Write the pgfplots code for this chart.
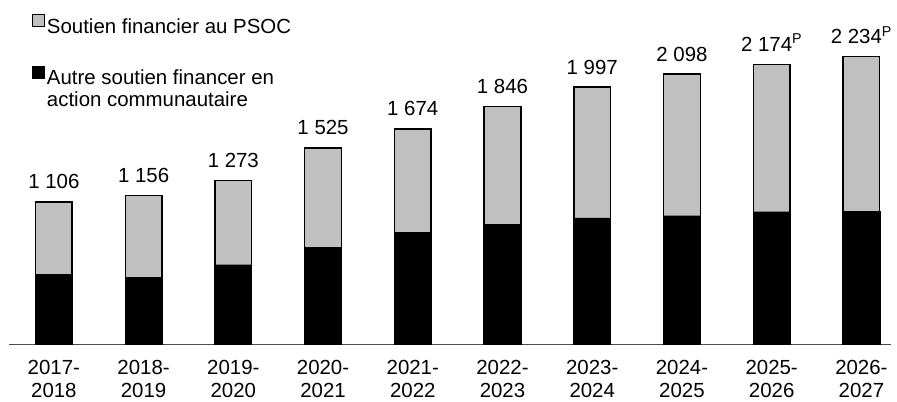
\documentclass[border=0pt]{standalone}
\usepackage{fontspec}
\setmainfont{Liberation Sans}
\usepackage{pgfplots}
\usepackage{pgfplotstable}
\pgfplotsset{compat=1.18}

\definecolor{psocgray}{RGB}{192,192,192}

% soutien financier total et part "autre soutien" (barre noire)
\pgfplotstableread[col sep=comma]{
x,total,autre,label
0,1106,546,1 106
1,1156,520,1 156
2,1273,618,1 273
3,1525,753,1 525
4,1674,870,1 674
5,1846,934,1 846
6,1997,983,1 997
7,2098,999,2 098
8,2174,1030,2 174\textsuperscript{P}
9,2234,1033,2 234\textsuperscript{P}
}\soutien

\begin{document}
\begin{tikzpicture}
\useasboundingbox (-9bp,-57.7bp) rectangle (888bp,344.3bp);
\begin{axis}[
    scale only axis,
    width=882bp, height=334.3bp,
    ybar=0pt, bar shift=0pt,
    bar width=36.6bp,
    xmin=-0.5, xmax=9.33,
    ymin=0, ymax=2597,
    axis y line=none,
    axis x line*=bottom,
    x axis line style={draw=black!70, line width=1bp},
    xtick={0,...,9},
    xticklabels={{2017-\\2018},{2018-\\2019},{2019-\\2020},{2020-\\2021},{2021-\\2022},
                 {2022-\\2023},{2023-\\2024},{2024-\\2025},{2025-\\2026},{2026-\\2027}},
    major tick length=0pt,
    xticklabel style={align=center, font=\fontsize{20.5}{24}\selectfont, yshift=-12bp},
    legend cell align=left,
    legend style={draw=none, fill=none,
        at={(axis description cs:0,1)}, anchor=north west, xshift=20bp, yshift=-2bp,
        font=\fontsize{20.5}{21.5}\selectfont,
        row sep=29bp},
    legend image code/.code={\draw[#1, line width=0.8bp] (0bp,0bp) rectangle (12bp,12bp);},
]
% barre grise = total (PSOC + autre), étiquette du total au-dessus
\addplot[fill=psocgray, draw=black, line width=1.5bp,
    nodes near coords, point meta=explicit symbolic,
    every node near coord/.append style={anchor=base, yshift=13bp, text=black,
        font=\fontsize{20.5}{24}\selectfont}]
    table[x=x, y=total, meta=label] {\soutien};
\addlegendentry{Soutien financier au PSOC}
\addplot[fill=black, draw=black] table[x=x, y=autre] {\soutien};
\addlegendentry{\begin{tabular}[t]{@{}l@{}}Autre soutien financer en\\action communautaire\end{tabular}}
\end{axis}
\end{tikzpicture}
\end{document}
